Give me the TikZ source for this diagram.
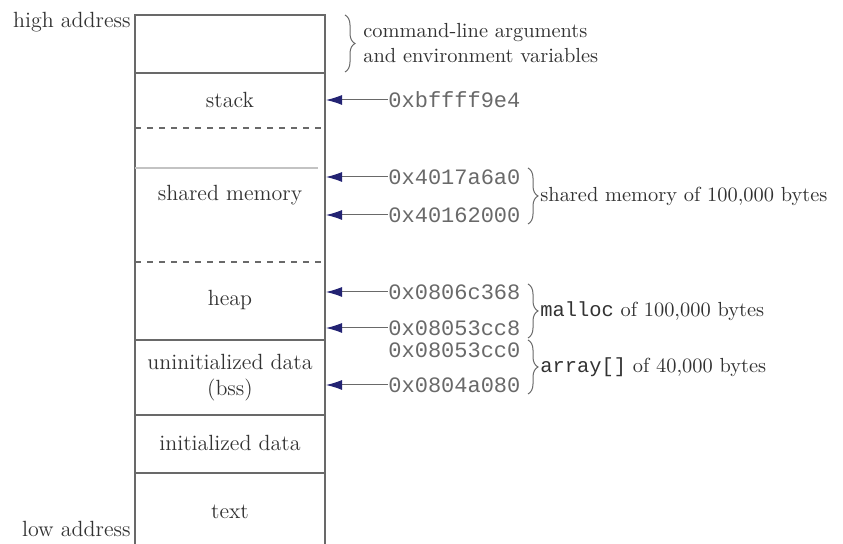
\documentclass[tikz,border=0pt]{standalone}
\usepackage{fontspec}
\setmonofont{Liberation Mono}
\usetikzlibrary{positioning,arrows.meta,decorations.pathreplacing}
\definecolor{tipblue}{RGB}{35,35,115}
\definecolor{inkgray}{RGB}{105,105,105}
\definecolor{textgray}{RGB}{50,50,50}

\begin{document}
\begin{tikzpicture}[x=0.5pt, y=-0.5pt,
		every node/.style={inner sep=0pt, text=textgray},
		seg/.style={font=\fontsize{11}{13}\selectfont, align=center},
		side/.style={font=\fontsize{10.2}{12.5}\selectfont, anchor=west},
		addr/.style={font=\ttfamily\fontsize{11}{12}\selectfont, anchor=west, text=inkgray},
		wall/.style={draw=inkgray, line width=0.6pt},
		split/.style={draw=inkgray, line width=0.6pt, dashed},
		ptr/.style={draw=inkgray, line width=0.5pt, {Latex[length=8pt,width=5pt,color=tipblue]}-},
		curly/.style={draw=inkgray, line width=0.5pt, decorate, decoration={brace, amplitude=5pt}}]
	\useasboundingbox (0,0) rectangle (843,544);
	% memory column
	\coordinate (tl) at (135,15);
	\coordinate (tr) at (325,15);
	\coordinate (bl) at (135,544);
	\coordinate (br) at (325,544);
	\draw[wall] (bl) -- (tl) -- (tr) -- (br);
	\draw[wall] (135,73) -- (325,73);
	\draw[split] (135,128) -- (325,128);
	\draw[draw=inkgray!40, line width=0.6pt] (135,168) -- (318,168);
	\draw[split] (135,262) -- (325,262);
	\draw[wall] (135,340) -- (325,340);
	\draw[wall] (135,415) -- (325,415);
	\draw[wall] (135,473) -- (325,473);
	%
	\node[seg] (stack) at (230,100) {stack};
	\node[seg] (shm) at (230,195) {shared memory};
	\node[seg] (heap) at (230,300) {heap};
	\node[seg] (bss) at (230,378) {uninitialized data\\(bss)};
	\node[seg] (init) at (230,443) {initialized data};
	\node[seg] (txt) at (230,512) {text};
	%
	\node[seg, anchor=east] (high) at (131,22) {high address};
	\node[seg, anchor=east] (low) at (131,529) {low address};
	% addresses
	\node[addr] (a1) at (388,100) {0xbffff9e4};
	\node[addr] (a2) at (388,177) {0x4017a6a0};
	\node[addr] (a3) at (388,215) {0x40162000};
	\node[addr] (a4) at (388,292) {0x0806c368};
	\node[addr] (a5) at (388,328) {0x08053cc8};
	\node[addr] (a6) at (388,350) {0x08053cc0};
	\node[addr] (a7) at (388,385) {0x0804a080};
	\foreach \n in {a1,a2,a3,a4,a5,a7}
		\draw[ptr] (326,0 |- \n.west) -- (\n.west);
	% braces and notes
	\draw[curly] (345,15) -- (345,72);
	\node[side, align=left] (args) at (363,43) {command-line arguments\\and environment variables};
	\draw[curly] (528,168) -- (528,224);
	\node[side] (shmnote) at (540,196) {shared memory of 100,000 bytes};
	\draw[curly] (528,284) -- (528,338);
	\node[side] (mallocnote) at (540,311) {\texttt{malloc} of 100,000 bytes};
	\draw[curly] (528,340) -- (528,394);
	\node[side] (arraynote) at (540,367) {\texttt{array[]} of 40,000 bytes};
\end{tikzpicture}
\end{document}
